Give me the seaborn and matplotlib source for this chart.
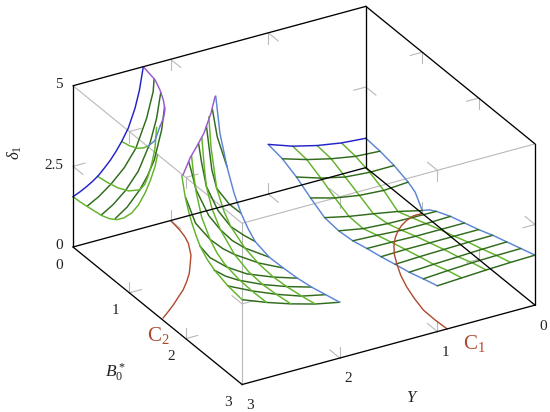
import matplotlib
matplotlib.use("Agg")
import matplotlib.pyplot as plt
import seaborn as sns
from mpl_toolkits.mplot3d import proj3d

# ---------- data ----------
TICKS_B = [0, 1, 2, 3]
TICKS_Y = [0, 1, 2, 3]
TICKS_D = [0, 2.5, 5]
TICK_LABELS_D = ["0", "2.5", "5"]

# right surface: delta at Y = const rows
S3_B = [0, .25, .5, .75, 1, 1.25, 1.5, 1.75, 2, 2.25, 2.5, 2.75, 3]
S3_Y = [1, .75, .5, .25, 0]
S3_D_Y100 = [1.54, 1.45, 1.24, .947, .69, .637, .683, .80, .90, 1.02, 1.13, 1.28, 1.42]
S3_D_Y075 = [1.28, 1.22, 1.00, .74, .524, .50, .65, .79, .92, 1.05, 1.17, 1.33, 1.46]
S3_D_Y050 = [1.095, 1.04, .83, .615, .40, .45, .60, .77, .92, 1.07, 1.20, 1.37, 1.50]
S3_D_Y025 = [.97, .91, .77, .564, .266, .43, .60, .77, .92, 1.09, 1.23, 1.39, 1.53]
S3_D_Y000 = [.91, .865, .776, .616, .09, .42, .62, .77, .92, 1.10, 1.25, 1.40, 1.55]
S3_EDGE_B = [0, .25, .5, .75, .875, 1, 1.125, 1.25, 1.5, 1.75, 2, 2.25, 2.5, 2.75, 3]
S3_EDGE_D = [.91, .865, .776, .616, .48, .09, .29, .42, .62, .77, .92, 1.10, 1.25, 1.40, 1.55]

# middle surface: lines at Y = const (B, delta)
S2_Y300 = ([1.93, 1.988, 2.05, 2.107, 2.18, 2.255, 2.38, 2.521, 2.75, 3],
           [4.96, 4.40, 4.02, 3.75, 3.47, 3.23, 3.0, 2.84, 2.70, 2.63])
S2_Y275 = ([1.67, 1.7, 1.75, 1.85, 2, 2.12, 2.25, 2.5, 2.75, 3],
           [5, 4.55, 4.0, 3.35, 2.87, 2.63, 2.48, 2.36, 2.33, 2.34])
S2_Y250 = ([1.42, 1.46, 1.5, 1.6, 1.75, 2, 2.25, 2.5, 2.75, 3],
           [5, 4.2, 3.6, 3.05, 2.61, 2.20, 2.02, 1.98, 2.02, 2.09])
S2_Y225 = ([1.11, 1.15, 1.25, 1.38, 1.5, 1.75, 2, 2.25, 2.5, 2.75, 3],
           [5, 4.1, 2.98, 2.45, 2.15, 1.84, 1.70, 1.66, 1.70, 1.78, 1.88])
S2_Y200 = ([.8, .875, 1, 1.125, 1.25, 1.375, 1.5, 1.75, 2, 2.25, 2.5, 2.75, 3],
           [5, 3.95, 3.09, 2.45, 2.0, 1.7, 1.48, 1.35, 1.37, 1.41, 1.49, 1.61, 1.73])
# middle surface: lines at B = const (Y, delta)
S2_B300 = ([3, 2.75, 2.5, 2.25, 2], [2.63, 2.34, 2.09, 1.88, 1.73])
S2_B275 = ([3, 2.75, 2.5, 2.25, 2], [2.70, 2.34, 2.03, 1.77, 1.61])
S2_B250 = ([3, 2.88, 2.75, 2.5, 2.25, 2], [2.84, 2.55, 2.32, 1.98, 1.71, 1.49])
S2_B225 = ([3, 2.895, 2.724, 2.519, 2.25, 2], [3.23, 2.78, 2.35, 1.97, 1.65, 1.41])
S2_B200 = ([3, 2.9, 2.75, 2.62, 2.5, 2.25, 2], [4.37, 3.5, 2.87, 2.48, 2.20, 1.73, 1.37])
S2_B175 = ([2.826, 2.8, 2.75, 2.62, 2.5, 2.38, 2.25, 2], [5, 4.7, 4.06, 3.15, 2.61, 2.18, 1.84, 1.35])
S2_B150 = ([2.58, 2.55, 2.5, 2.38, 2.25, 2.12, 2], [5, 4.4, 3.6, 2.75, 2.15, 1.78, 1.48])
S2_B125 = ([2.355, 2.3, 2.25, 2.12, 2], [5, 3.6, 2.98, 2.38, 2.0])
S2_B100 = ([2.15, 2.1, 2], [5, 4.1, 3.09])
S2_TOP_Y = [3, 2.782, 2.621, 2.439, 2.198, 2.01]
S2_TOP_B = [1.95, 1.70, 1.54, 1.353, 1.059, .806]

# left surface
S1_B000 = ([3, 2.93, 2.86, 2.8, 2.741, 2.68, 2.62, 2.56, 2.502, 2.434, 2.365, 2.32, 2.28],
           [1.56, 1.65, 1.76, 1.87, 2.0, 2.18, 2.37, 2.6, 2.86, 3.22, 3.78, 4.3, 5])
S1_B025 = ([3, 2.88, 2.75, 2.62, 2.5, 2.39, 2.323, 2.314], [1.62, 1.82, 2.12, 2.5, 3.01, 3.85, 4.62, 5])
S1_B050 = ([3, 2.88, 2.75, 2.62, 2.5, 2.432, 2.39], [1.70, 1.92, 2.26, 2.75, 3.52, 4.24, 5])
S1_B075 = ([3, 2.88, 2.75, 2.67, 2.6, 2.525, 2.495], [1.95, 2.2, 2.63, 3.0, 3.44, 4.31, 5])
S1_Y300 = ([0, .13, .27, .51, .65, .775, .9, 1.04, 1.16, 1.278, 1.37, 1.456, 1.5],
           [1.56, 1.58, 1.62, 1.70, 1.80, 1.95, 2.18, 2.53, 2.95, 3.49, 4.0, 4.57, 5])
S1_Y275 = ([0, .18, .371, .56, .754, .84, .90, .96, 1.02, 1.05],
           [1.99, 2.05, 2.15, 2.33, 2.64, 2.93, 3.27, 3.72, 4.27, 5])
S1_Y250 = ([0, .13, .265, .38, .47], [2.86, 2.92, 3.03, 3.2, 3.39])
S1_EDGE_Y = [2.5, 2.6, 2.715]
S1_EDGE_B = [.47, .76, 1.05]
S1_EDGE_D = [3.39, 4.05, 5]
S1_TOP_Y = [2.28, 2.314, 2.37, 2.439, 2.52, 2.61, 2.715]
S1_TOP_B = [0, .267, .45, .63, .8, .93, 1.05]

# curves in the base plane
C1_B = [1, 1.0, 1.045, 1.104, 1.17, 1.276, 1.395, 1.543, 1.706, 1.914, 2.131, 2.354, 2.585, 2.8, 3.0]
C1_Y = [0, .086, .186, .271, .344, .436, .518, .60, .669, .749, .813, .863, .904, .908, .9]
C2_B = [0, .199, .33, .453, .655, .787, .946, 1.071, 1.191, 1.288, 1.391, 1.478, 1.563]
C2_Y = [2.0, 2.02, 2.044, 2.08, 2.17, 2.253, 2.355, 2.454, 2.56, 2.665, 2.775, 2.877, 2.98]

# ---------- style ----------
sns.set_theme(style="white")
plt.rcParams["font.family"] = ["Liberation Serif", "DejaVu Serif"]
plt.rcParams["mathtext.fontset"] = "custom"
plt.rcParams["mathtext.rm"] = "Liberation Serif"
plt.rcParams["mathtext.it"] = "Liberation Serif:italic"

LIGHT = "#62b32a"
DARK = "#2f6b1a"
MID_BLUE = "#5b85d6"
DEEP_BLUE = "#2222c8"
PURPLE = "#9b59d0"
RED = "#b0482c"
GRAY = "#b9b9b9"
LW = 1.05

W, H = 550, 412
fig = plt.figure(figsize=(W / 100, H / 100), dpi=100, facecolor="white")
ax = fig.add_axes([0, 0, 1, 1], projection="3d", computed_zorder=False)
ax.set_proj_type("ortho")
ax.view_init(elev=28, azim=-30)
ax.set_xlim(0, 3)
ax.set_ylim(3, 0)
ax.set_zlim(0, 5)
ax.set_box_aspect((1, 1, 0.54))
ax.grid(False)
for a in (ax.xaxis, ax.yaxis, ax.zaxis):
    a.pane.set_visible(False)
    a.line.set_color((0, 0, 0, 0))
    a._axinfo["tick"]["inward_factor"] = 0
    a._axinfo["tick"]["outward_factor"] = 0
    a.set_tick_params(labelsize=11, colors="#222222", pad=1)
ax.set_xticks(TICKS_B)
ax.set_yticks(TICKS_Y)
ax.set_zticks(TICKS_D)
ax.set_zticklabels(TICK_LABELS_D, ha="right", va="center")
ax.zaxis.set_ticks_position("upper")
ax.zaxis.set_tick_params(pad=-4)


def line(B, Y, D, color, lw=LW, z=3):
    B = B if isinstance(B, (list, tuple)) else [B] * len(D)
    Y = Y if isinstance(Y, (list, tuple)) else [Y] * len(D)
    ax.plot(B, Y, D, color=color, lw=lw, zorder=z, solid_capstyle="round", solid_joinstyle="round")


# gray (front) box edges
for (b, y, d) in [([0, 3], 3, [5, 5]), ([3, 3], [3, 0], [5, 5]), (3, 3, [0, 5])]:
    line(b, y, d, GRAY, .8, 1)

# gray ticks
TB, TY, TD = .18, .125, .34
for t in (1, 2):
    for y, d, sd in [(3, 0, 1), (3, 5, -1), (0, 0, 1), (0, 5, -1)]:
        sy = -1 if y == 3 else 1
        line(t, [y, y + sy * TY], [d, d], GRAY, .8, 1)
        line(t, y, [d, d + sd * TD], GRAY, .8, 1)
    for b, d, sd in [(0, 0, 1), (0, 5, -1), (3, 0, 1), (3, 5, -1)]:
        sb = 1 if b == 0 else -1
        line([b, b + sb * TB], t, [d, d], GRAY, .8, 1)
        line(b, t, [d, d + sd * TD], GRAY, .8, 1)
for b, y in [(0, 3), (3, 0), (0, 0), (3, 3)]:
    sb = 1 if b == 0 else -1
    sy = -1 if y == 3 else 1
    line([b, b + sb * TB], y, [2.5, 2.5], GRAY, .8, 1)
    line(b, [y, y + sy * TY], [2.5, 2.5], GRAY, .8, 1)

# surfaces: right
rows = [S3_D_Y100, S3_D_Y075, S3_D_Y050, S3_D_Y025, S3_D_Y000]
line(S3_B, 1, S3_D_Y100, MID_BLUE)
line(S3_B, .75, S3_D_Y075, LIGHT)
line(S3_B, .5, S3_D_Y050, LIGHT)
line(S3_B, .25, S3_D_Y025, LIGHT)
line(S3_EDGE_B, 0, S3_EDGE_D, MID_BLUE)
for i, b in enumerate(S3_B):
    if 0 < i:
        line(b, S3_Y, [r[i] for r in rows], DARK)
line(0, S3_Y, [r[0] for r in rows], DEEP_BLUE)

# surfaces: middle
for b, s in zip([3, 2.75, 2.5, 2.25, 2, 1.75, 1.5, 1.25, 1],
                [S2_B300, S2_B275, S2_B250, S2_B225, S2_B200, S2_B175, S2_B150, S2_B125, S2_B100]):
    line(b, s[0], s[1], DARK)
for y, s in zip([3, 2.75, 2.5, 2.25], [S2_Y300, S2_Y275, S2_Y250, S2_Y225]):
    line(s[0], y, s[1], LIGHT)
line(S2_Y200[0], 2, S2_Y200[1], MID_BLUE)
line(S2_TOP_B, S2_TOP_Y, [5] * len(S2_TOP_B), PURPLE)

# surfaces: left
for b, s in zip([.25, .5, .75], [S1_B025, S1_B050, S1_B075]):
    line(b, s[0], s[1], DARK)
for y, s in zip([3, 2.75, 2.5], [S1_Y300, S1_Y275, S1_Y250]):
    line(s[0], y, s[1], LIGHT)
line(0, S1_B000[0], S1_B000[1], DEEP_BLUE)
line(S1_EDGE_B, S1_EDGE_Y, S1_EDGE_D, MID_BLUE)
line(S1_TOP_B, S1_TOP_Y, [5] * len(S1_TOP_B), PURPLE)

# base curves
line(C1_B, C1_Y, [0] * len(C1_B), RED, 1.0, 4)
line(C2_B, C2_Y, [0] * len(C2_B), RED, 1.0, 4)

# black box edges
for (b, y, d) in [([0, 3], 3, [0, 0]), (3, [3, 0], [0, 0]), (3, 0, [0, 5]), (0, 3, [0, 5]),
                  (0, [3, 0], [5, 5]), ([0, 3], 0, [5, 5]), (0, [3, 0], [0, 0]),
                  ([0, 3], 0, [0, 0]), (0, 0, [0, 5])]:
    line(b, y, d, "black", .95, 5)


# place the box so its corners land where the reference has them
def px(b, y, d):
    fig.canvas.draw()
    xs, ys, _ = proj3d.proj_transform(b, y, d, ax.get_proj())
    return ax.transData.transform((xs, ys))


side = H
l, bt = (W - side) / 2, 0
for _ in range(3):
    ax.set_position([l / W, bt / H, side / W, side / H])
    p0, p1 = px(0, 3, 0), px(3, 0, 0)
    s = (535 - 73) / (p1[0] - p0[0])
    cx, cy = l + side / 2, bt + side / 2
    side *= s
    cx_new = 73 + (cx - p0[0]) * s
    cy_new = (H - 247) + (cy - p0[1]) * s
    l, bt = cx_new - side / 2, cy_new - side / 2
ax.set_position([l / W, bt / H, side / W, side / H])

# titles and annotations
ink = "#222222"
fig.text(15 / W, 1 - 153 / H, r"$\delta_1$", rotation=90, ha="center", va="center", fontsize=12, color=ink)
fig.text(115 / W, 1 - 373 / H, r"$B_0^*$", ha="center", va="center", fontsize=12.5, color=ink)
fig.text(412 / W, 1 - 398 / H, r"$Y$", ha="center", va="center", fontsize=12, color=ink)
fig.text(158 / W, 1 - 335 / H, r"$\mathrm{C}_2$", ha="center", va="center", fontsize=15, color=RED)
fig.text(474 / W, 1 - 343 / H, r"$\mathrm{C}_1$", ha="center", va="center", fontsize=15, color=RED)

fig.savefig("out.png", dpi=100)
